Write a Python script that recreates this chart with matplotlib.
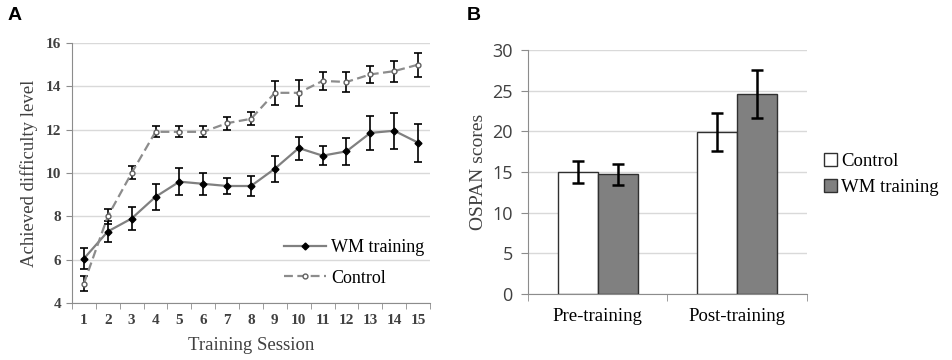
import numpy as np
import matplotlib
matplotlib.use('Agg')
import matplotlib.pyplot as plt
from matplotlib.ticker import FixedLocator

plt.rcParams['font.family'] = ['Liberation Serif', 'DejaVu Serif']

# panel A data
sessions = list(range(1, 16))
wm_level = [6.05, 7.3, 7.9, 8.9, 9.6, 9.5, 9.4, 9.4, 10.2, 11.15, 10.8, 11.0, 11.85, 11.95, 11.4]
wm_err = [0.5, 0.5, 0.52, 0.6, 0.62, 0.52, 0.37, 0.47, 0.6, 0.53, 0.45, 0.63, 0.77, 0.83, 0.88]
ctrl_level = [4.9, 8.0, 10.0, 11.9, 11.9, 11.9, 12.3, 12.5, 13.7, 13.7, 14.25, 14.2, 14.55, 14.7, 15.0]
ctrl_err = [0.35, 0.35, 0.3, 0.25, 0.25, 0.25, 0.3, 0.3, 0.55, 0.6, 0.42, 0.45, 0.38, 0.48, 0.55]

# panel B data
phases = ['Pre-training', 'Post-training']
ospan_ctrl = [15.0, 19.9]
ospan_ctrl_err = [1.3, 2.3]
ospan_wm = [14.7, 24.6]
ospan_wm_err = [1.25, 2.9]

grid_c = '#d9d9d9'
spine_c = '#8c8c8c'
text_c = '#404040'

fig = plt.figure(figsize=(9.52, 3.6), dpi=100)

# ---- A ----
ax = fig.add_axes([0.0756, 0.1583, 0.3761, 0.7223])
ax.errorbar(sessions, wm_level, yerr=wm_err, fmt='none',
            ecolor='black', elinewidth=1.2, capsize=3, capthick=1.2, zorder=3)
ax.errorbar(sessions, ctrl_level, yerr=ctrl_err, fmt='none',
            ecolor='black', elinewidth=1.2, capsize=3, capthick=1.2, zorder=3)
ax.plot(sessions, wm_level, color='#808080', lw=1.6,
        marker='D', ms=3.5, mfc='black', mec='black', label='WM training', zorder=4)
ax.plot(sessions, ctrl_level, color='#8c8c8c', lw=1.6, ls=(0, (4, 2)),
        marker='o', ms=3.5, mfc='white', mec='#606060', label='Control', zorder=4)
ax.set_xlim(0.5, 15.5)
ax.set_ylim(4, 16)
ax.set_yticks(range(4, 17, 2))
ax.set_xticks(sessions)
ax.xaxis.set_minor_locator(FixedLocator(np.arange(0.5, 15.6, 1)))
ax.tick_params(axis='x', which='major', length=0, pad=8)
ax.tick_params(axis='x', which='minor', length=4, color=spine_c, direction='out')
ax.tick_params(axis='y', length=4, color=spine_c, direction='out')
for lbl in ax.get_xticklabels() + ax.get_yticklabels():
    lbl.set_fontsize(11)
    lbl.set_color(text_c)
    lbl.set_fontweight('bold')
ax.yaxis.grid(True, color=grid_c, lw=1)
ax.set_axisbelow(True)
for s in ['top', 'right']:
    ax.spines[s].set_visible(False)
ax.spines['left'].set_color(spine_c)
ax.spines['bottom'].set_color(spine_c)
ax.set_xlabel('Training Session', fontsize=13.5, color=text_c, labelpad=7)
ax.set_ylabel('Achieved difficulty level', fontsize=13.5, color=text_c, labelpad=6)
leg = ax.legend(loc='lower right', frameon=False, fontsize=13, handlelength=2.3,
                bbox_to_anchor=(1.03, 0.0), labelspacing=0.75, handletextpad=0.3)

fig.text(0.008, 0.945, 'A', fontsize=14, fontweight='bold', family='Liberation Sans')

# ---- B ----
bx = fig.add_axes([0.5546, 0.1833, 0.2931, 0.6778])
x = np.arange(len(phases))
w = 0.287
bx.bar(x - w / 2, ospan_ctrl, w, yerr=ospan_ctrl_err, color='white', edgecolor='#303030', lw=1,
       error_kw=dict(ecolor='black', elinewidth=1.8, capsize=4, capthick=1.8), label='Control', zorder=3)
bx.bar(x + w / 2, ospan_wm, w, yerr=ospan_wm_err, color='#808080', edgecolor='#303030', lw=1,
       error_kw=dict(ecolor='black', elinewidth=1.8, capsize=4, capthick=1.8), label='WM training', zorder=3)
bx.set_xlim(-0.5, 1.5)
bx.set_ylim(0, 30)
bx.set_yticks(range(0, 31, 5))
bx.set_xticks(x)
bx.set_xticklabels(phases, fontsize=13.5, color='black')
bx.xaxis.set_minor_locator(FixedLocator([-0.5, 0.5, 1.5]))
bx.tick_params(axis='x', which='major', length=0, pad=10)
bx.tick_params(axis='x', which='minor', length=5, color=spine_c, direction='out')
bx.tick_params(axis='y', length=5, color=spine_c, direction='out', pad=6)
for lbl in bx.get_yticklabels():
    lbl.set_fontsize(13)
    lbl.set_color(text_c)
    lbl.set_family('Open Sans')
bx.yaxis.grid(True, color=grid_c, lw=1)
bx.set_axisbelow(True)
for s in ['top', 'right']:
    bx.spines[s].set_visible(False)
bx.spines['left'].set_color(spine_c)
bx.spines['bottom'].set_color(spine_c)
bx.set_ylabel('OSPAN scores', fontsize=14, color=text_c, labelpad=4)
bleg = bx.legend(loc='center left', bbox_to_anchor=(1.0, 0.49), frameon=False, fontsize=13.5,
                 handlelength=0.7, handleheight=0.7, handletextpad=0.2, labelspacing=0.5)

fig.text(0.49, 0.945, 'B', fontsize=14, fontweight='bold', family='Liberation Sans')

fig.savefig('out.png', dpi=100)
